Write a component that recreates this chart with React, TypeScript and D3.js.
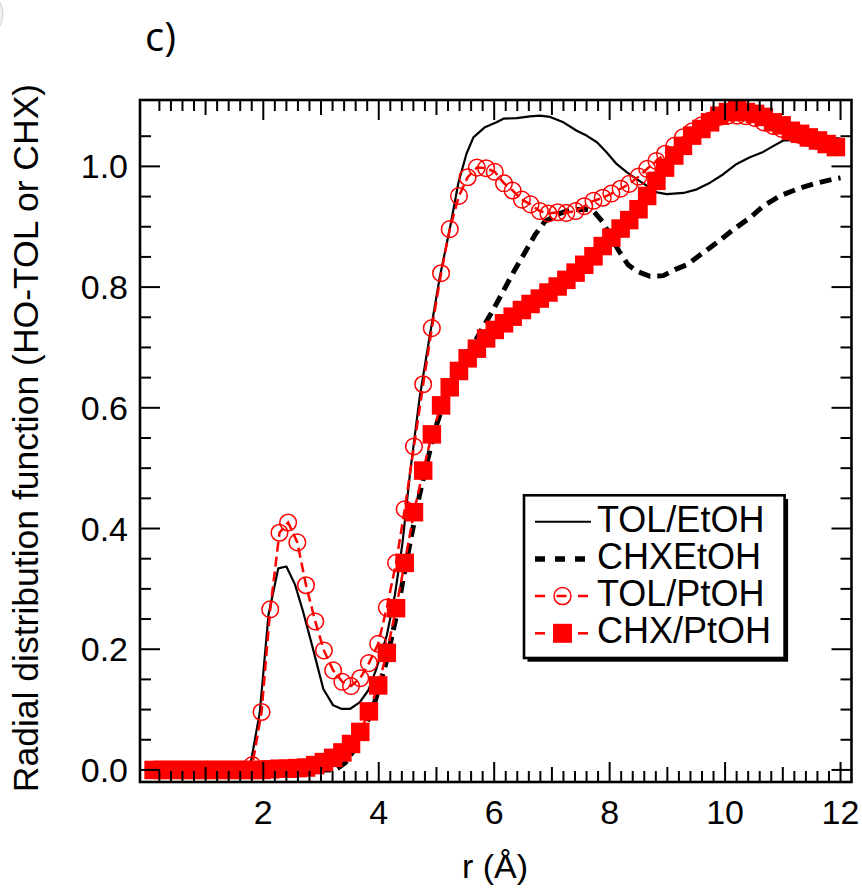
import React from "react";
import * as d3 from "d3";

// Sampling grid of the PtOH simulations (Å)
const R_GRID = [
  0.10, 0.26, 0.41, 0.57, 0.72, 0.88, 1.03, 1.19, 1.34, 1.50,
  1.66, 1.81, 1.97, 2.12, 2.28, 2.43, 2.59, 2.74, 2.90, 3.05,
  3.21, 3.37, 3.52, 3.68, 3.83, 3.99, 4.14, 4.30, 4.45, 4.61,
  4.77, 4.92, 5.08, 5.23, 5.39, 5.54, 5.70, 5.86, 6.01, 6.17,
  6.32, 6.48, 6.63, 6.79, 6.94, 7.10, 7.25, 7.41, 7.56, 7.72,
  7.88, 8.03, 8.19, 8.34, 8.50, 8.65, 8.81, 8.96, 9.12, 9.27,
  9.43, 9.59, 9.74, 9.90, 10.05, 10.21, 10.36, 10.52, 10.67, 10.83,
  10.98, 11.14, 11.30, 11.45, 11.61, 11.76, 11.92,
];

const TOL_PTOH = [
  0, 0, 0, 0, 0, 0, 0, 0, 0, 0,
  0, 0.008, 0.096, 0.266, 0.393, 0.41, 0.377, 0.306, 0.246, 0.198,
  0.165, 0.146, 0.139, 0.152, 0.177, 0.209, 0.269, 0.343, 0.432, 0.536,
  0.639, 0.732, 0.823, 0.896, 0.951, 0.982, 0.998, 0.997, 0.991, 0.972,
  0.96, 0.945, 0.937, 0.926, 0.922, 0.924, 0.923, 0.926, 0.934, 0.943,
  0.948, 0.955, 0.963, 0.971, 0.983, 0.996, 1.009, 1.021, 1.034, 1.048,
  1.058, 1.068, 1.076, 1.082, 1.084, 1.084, 1.083, 1.08, 1.073, 1.067,
  1.062, 1.057, 1.052, 1.047, 1.042, 1.037, 1.032,
];

const CHX_PTOH = [
  0, 0, 0, 0, 0, 0, 0, 0, 0, 0,
  0, 0, 0, 0.001, 0.002, 0.002, 0.003, 0.004, 0.008, 0.013,
  0.02, 0.029, 0.043, 0.063, 0.097, 0.14, 0.194, 0.268, 0.343, 0.427,
  0.496, 0.556, 0.604, 0.634, 0.661, 0.682, 0.698, 0.715, 0.729, 0.74,
  0.751, 0.762, 0.772, 0.781, 0.791, 0.801, 0.812, 0.824, 0.837, 0.851,
  0.868, 0.882, 0.897, 0.911, 0.929, 0.951, 0.976, 0.998, 1.018, 1.034,
  1.051, 1.062, 1.073, 1.084, 1.09, 1.093, 1.09, 1.087, 1.082, 1.073,
  1.068, 1.059, 1.054, 1.048, 1.043, 1.037, 1.032,
];

const TOL_ETOH_R = [
  0, 1.70, 1.78, 1.94, 2.09, 2.26, 2.40, 2.55, 2.69, 2.86,
  3.04, 3.21, 3.36, 3.50, 3.67, 3.82, 3.96, 4.14, 4.28, 4.41,
  4.54, 4.71, 4.89, 5.06, 5.23, 5.38, 5.52, 5.64, 5.84, 6.04,
  6.16, 6.39, 6.62, 6.79, 6.97, 7.20, 7.43, 7.60, 7.78, 7.95,
  8.12, 8.30, 8.47, 8.64, 8.82, 8.99, 9.28, 9.51, 9.74, 9.97,
  10.20, 10.43, 10.66, 10.84, 11.01, 11.24, 11.36, 11.70, 12.00,
];
const TOL_ETOH_G = [
  0, 0, 0.01, 0.096, 0.257, 0.334, 0.337, 0.307, 0.262, 0.201,
  0.134, 0.107, 0.101, 0.101, 0.112, 0.132, 0.168, 0.223, 0.29, 0.375,
  0.49, 0.618, 0.723, 0.818, 0.896, 0.973, 1.021, 1.048, 1.065, 1.073,
  1.079, 1.08, 1.083, 1.084, 1.082, 1.073, 1.059, 1.051, 1.04, 1.023,
  1.004, 0.99, 0.979, 0.968, 0.957, 0.954, 0.956, 0.962, 0.973, 0.987,
  1.004, 1.015, 1.024, 1.034, 1.043, 1.043, 1.047, 1.048, 1.046,
];

const CHX_ETOH_R = [
  0, 3.25, 3.42, 3.58, 3.78, 3.95, 4.13, 4.31, 4.45, 4.56,
  4.71, 4.83, 4.97, 5.12, 5.29, 5.46, 5.64, 5.78, 5.98, 6.16,
  6.36, 6.53, 6.71, 6.88, 7.11, 7.31, 7.57, 7.72, 7.89, 8.04,
  8.18, 8.32, 8.47, 8.70, 8.93, 9.13, 9.34, 9.62, 9.86, 10.14,
  10.43, 10.66, 10.95, 11.24, 11.53, 11.88, 12.00,
];
const CHX_ETOH_G = [
  0, 0, 0.012, 0.034, 0.073, 0.118, 0.179, 0.257, 0.33, 0.385,
  0.457, 0.507, 0.562, 0.607, 0.651, 0.679, 0.705, 0.729, 0.762, 0.794,
  0.829, 0.857, 0.887, 0.909, 0.921, 0.928, 0.929, 0.926, 0.907, 0.879,
  0.857, 0.837, 0.826, 0.818, 0.819, 0.829, 0.837, 0.857, 0.874, 0.895,
  0.915, 0.934, 0.951, 0.962, 0.971, 0.979, 0.981,
];

const X_TICK_LABELS = [2, 4, 6, 8, 10, 12];
const Y_TICK_LABELS = [0, 0.2, 0.4, 0.6, 0.8, 1.0];
const LEGEND_LABELS = ["TOL/EtOH", "CHXEtOH", "TOL/PtOH", "CHX/PtOH"];

const FONT = "'Liberation Sans', Arial, Helvetica, sans-serif";
const RED = "#ff0000";

export default function App() {
  const W = 862;
  const H = 895;
  const left = 140, right = 851.5, top = 100, bottom = 782;
  const x = d3.scaleLinear().domain([-0.136, 12.19]).range([left, right]);
  const y = d3.scaleLinear().domain([-0.02, 1.11]).range([bottom, top]);

  const line = d3
    .line<[number, number]>()
    .x((d) => x(d[0]))
    .y((d) => y(d[1]));

  const tolEt = TOL_ETOH_R.map((r, i) => [r, TOL_ETOH_G[i]] as [number, number]);
  const chxEt = CHX_ETOH_R.map((r, i) => [r, CHX_ETOH_G[i]] as [number, number]);
  const tolPt = R_GRID.map((r, i) => [r, TOL_PTOH[i]] as [number, number]);
  const chxPt = R_GRID.map((r, i) => [r, CHX_PTOH[i]] as [number, number]);

  // tick positions
  const xMinor = d3.range(1, 61).map((k) => k / 5); // 0.2 .. 12.0
  const yMinor = d3.range(0, 22).map((k) => k / 20); // 0 .. 1.05

  const xTickLen = (v: number) => {
    const r = Math.round(v * 5);
    if (r % 10 === 0) return 20;
    if (r % 5 === 0) return 15;
    return 11;
  };
  const yTickLen = (v: number) => (Math.round(v * 20) % 4 === 0 ? 20 : 11);

  const sq = 18.5;
  const lgX0 = 535, lgX1 = 591;
  const lgRowY = (i: number) => 521.7 + i * 37.2;

  return (
    <svg
      width={W}
      height={H}
      viewBox={`0 0 ${W} ${H}`}
      style={{ position: "absolute", left: 0, top: 0, background: "#fff" }}
    >
      <defs>
        <clipPath id="plotclip">
          <rect x={left} y={top} width={right - left} height={bottom - top} />
        </clipPath>
      </defs>
      <rect x={0} y={0} width={W} height={H} fill="#fff" />
      <circle cx={-22} cy={14} r={25} fill="#efefef" stroke="#d0d0d0" strokeWidth={1} />

      <text x={145} y={51} fontFamily="'Open Sans', 'Noto Sans', sans-serif" fontSize={40} fill="#000">
        c)
      </text>

      {/* data */}
      <g clipPath="url(#plotclip)">
        <path d={line(tolEt) || ""} fill="none" stroke="#000" strokeWidth={2.2} strokeLinejoin="round" />
        <path d={line(chxEt) || ""} fill="none" stroke="#000" strokeWidth={5} strokeDasharray="12,7" />
        <path d={line(tolPt) || ""} fill="none" stroke={RED} strokeWidth={2.5} strokeDasharray="10,5" />
        {tolPt.map((d, i) => (
          <circle key={"c" + i} cx={x(d[0])} cy={y(d[1])} r={8.3} fill="none" stroke={RED} strokeWidth={1.5} />
        ))}
        <path d={line(chxPt) || ""} fill="none" stroke={RED} strokeWidth={2.5} strokeDasharray="10,5" />
        {chxPt.map((d, i) => (
          <rect key={"s" + i} x={x(d[0]) - sq / 2} y={y(d[1]) - sq / 2} width={sq} height={sq} fill={RED} />
        ))}
      </g>

      {/* ticks */}
      <g stroke="#000" strokeWidth={2}>
        {xMinor.map((v, i) => (
          <g key={"xt" + i}>
            <line x1={x(v)} x2={x(v)} y1={top} y2={top + xTickLen(v)} />
            <line x1={x(v)} x2={x(v)} y1={bottom} y2={bottom - xTickLen(v)} />
          </g>
        ))}
        {yMinor.map((v, i) => (
          <g key={"yt" + i}>
            <line x1={left} x2={left + yTickLen(v)} y1={y(v)} y2={y(v)} />
            <line x1={right} x2={right - yTickLen(v)} y1={y(v)} y2={y(v)} />
          </g>
        ))}
      </g>

      {/* frame */}
      <rect x={left} y={top} width={right - left} height={bottom - top} fill="none" stroke="#000" strokeWidth={2.6} />

      {/* tick labels */}
      {X_TICK_LABELS.map((v) => (
        <text key={"xl" + v} x={x(v)} y={824} textAnchor="middle" fontFamily={FONT} fontSize={34} fill="#000">
          {v}
        </text>
      ))}
      {Y_TICK_LABELS.map((v) => (
        <text key={"yl" + v} x={128} y={y(v) + 12} textAnchor="end" fontFamily={FONT} fontSize={34} fill="#000">
          {v.toFixed(1)}
        </text>
      ))}

      {/* axis titles */}
      <text x={495} y={878} textAnchor="middle" fontFamily={FONT} fontSize={34} fill="#000">
        r (Å)
      </text>
      <text
        transform={`translate(38, 438) rotate(-90)`}
        textAnchor="middle"
        fontFamily={FONT}
        fontSize={35.5}
        fill="#000"
      >
        Radial distribution function (HO-TOL or CHX)
      </text>

      {/* legend */}
      <rect x={527.5} y={499} width={260.6} height={162.7} fill="#000" />
      <rect x={524} y={495.3} width={260.6} height={162.7} fill="#fff" stroke="#000" strokeWidth={2.6} />
      <line x1={lgX0} x2={lgX1} y1={lgRowY(0)} y2={lgRowY(0)} stroke="#000" strokeWidth={2} />
      <line x1={lgX0} x2={587} y1={lgRowY(1)} y2={lgRowY(1)} stroke="#000" strokeWidth={5.5} strokeDasharray="10,10" />
      <line x1={lgX0} x2={588} y1={lgRowY(2)} y2={lgRowY(2)} stroke={RED} strokeWidth={2.5} strokeDasharray="10,11.5" />
      <circle cx={562.5} cy={lgRowY(2)} r={8.5} fill="none" stroke={RED} strokeWidth={1.5} />
      <line x1={lgX0} x2={545} y1={lgRowY(3)} y2={lgRowY(3)} stroke={RED} strokeWidth={2.5} />
      <line x1={578} x2={588} y1={lgRowY(3)} y2={lgRowY(3)} stroke={RED} strokeWidth={2.5} />
      <rect x={562.5 - 9.5} y={lgRowY(3) - 9.5} width={19} height={19} fill={RED} />
      {LEGEND_LABELS.map((t, i) => (
        <text key={"lg" + i} x={597} y={531.7 + i * 37.2} fontFamily={FONT} fontSize={36} fill="#000">
          {t}
        </text>
      ))}
    </svg>
  );
}
